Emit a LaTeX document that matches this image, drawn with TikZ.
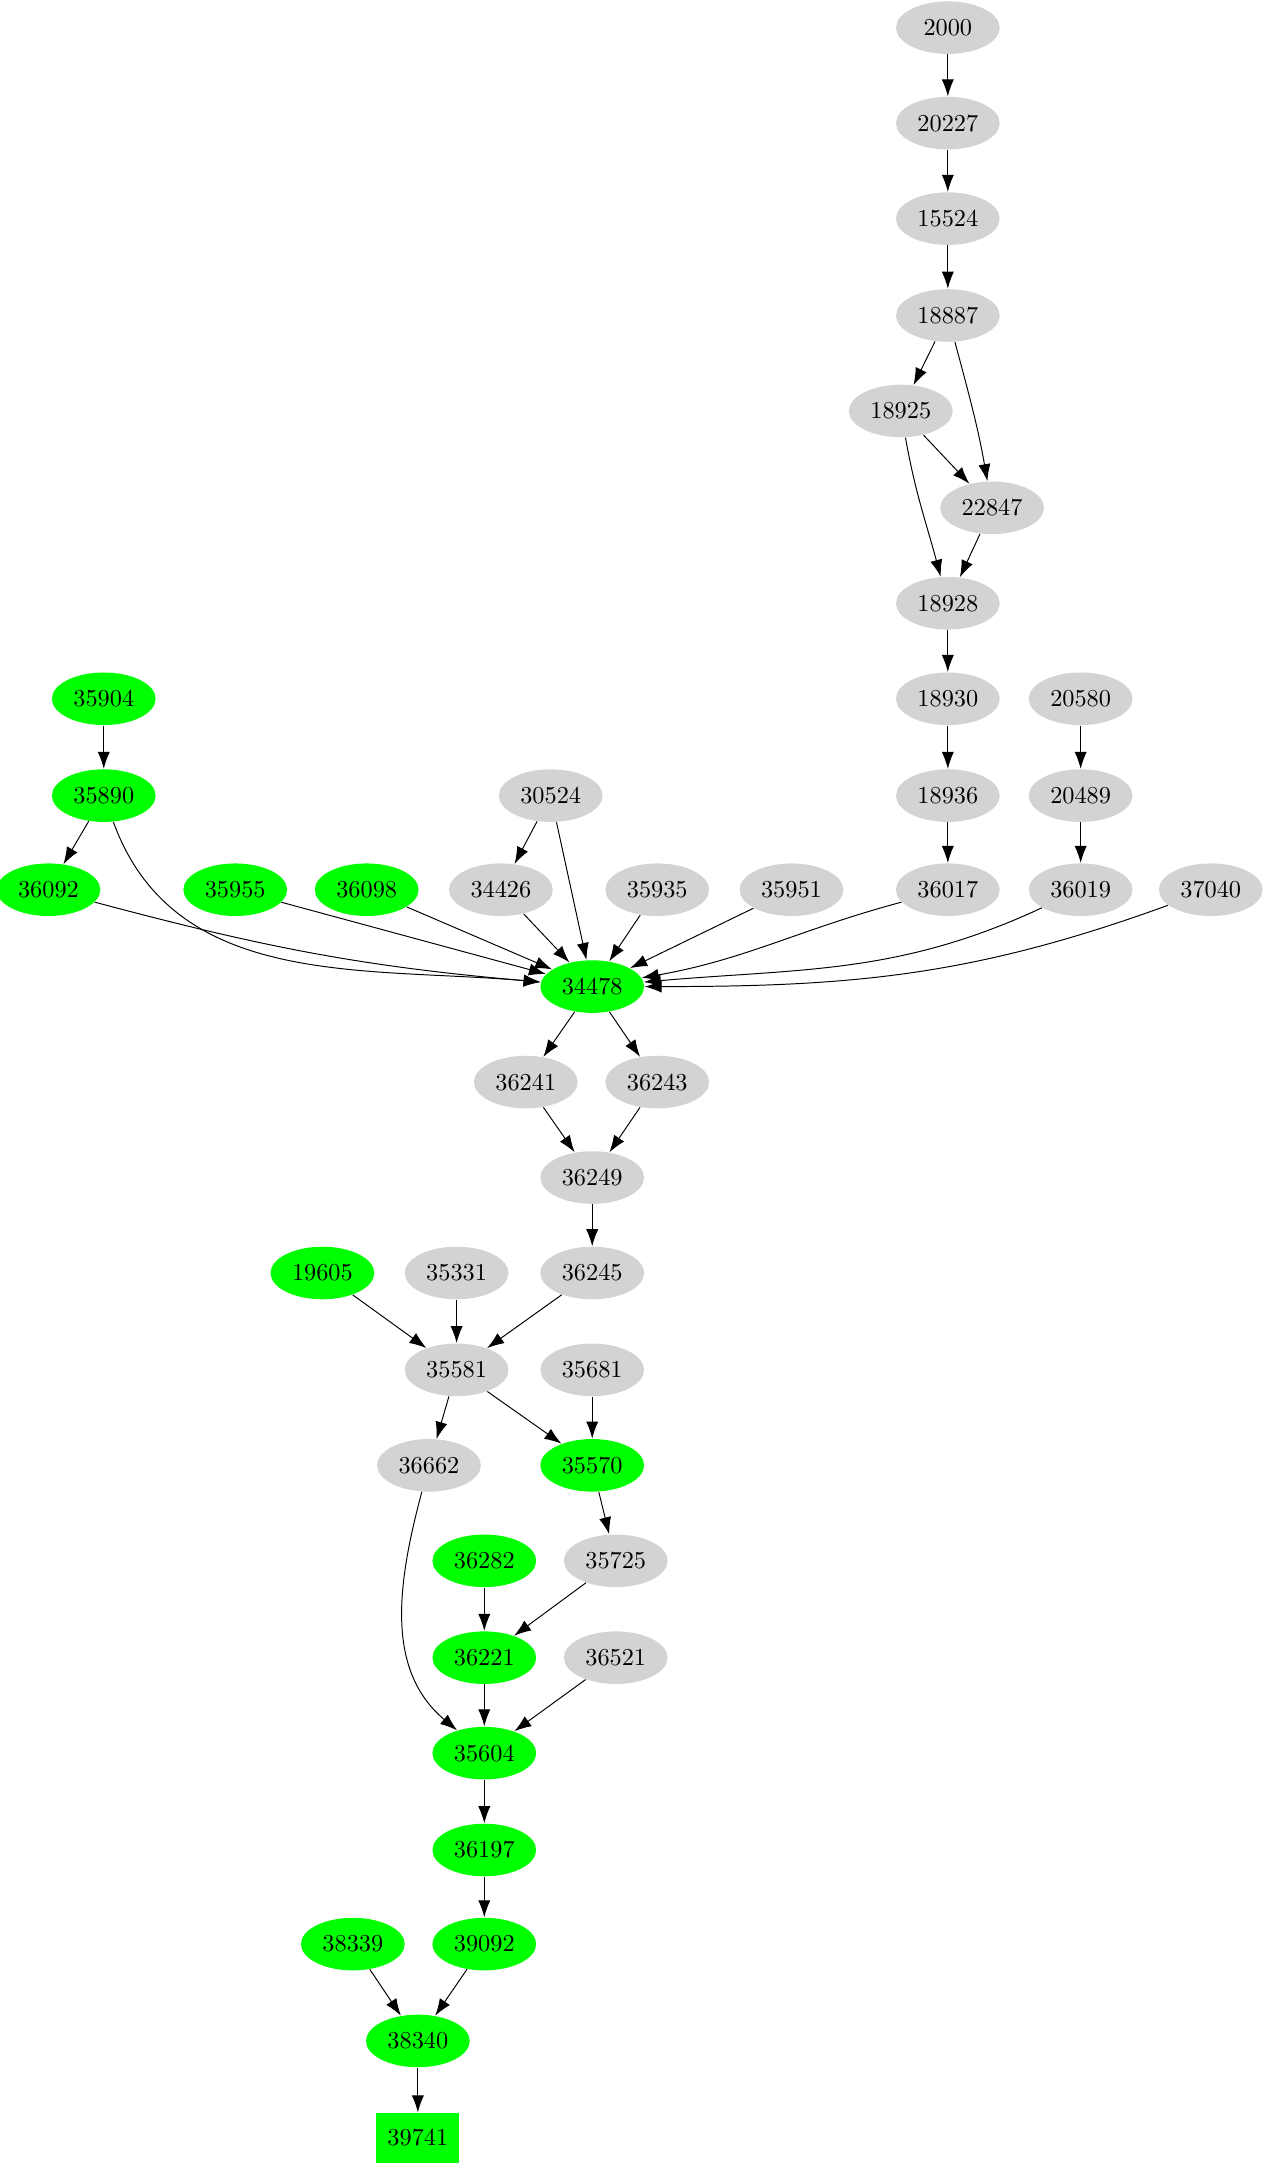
\documentclass[tikz,border=0pt]{standalone}
\usetikzlibrary{shapes.geometric,arrows.meta}
\definecolor{gr}{RGB}{211,211,211}
\definecolor{gn}{RGB}{0,255,0}
\begin{document}
\begin{tikzpicture}[x=0.02cm,y=-0.02cm,
 g/.style={ellipse,fill=gr,minimum width=1.5cm,minimum height=0.76cm,inner sep=0pt},
 G/.style={ellipse,fill=gn,minimum width=1.5cm,minimum height=0.76cm,inner sep=0pt},
 e/.style={-{Latex[length=7pt,width=5pt]}}]
\useasboundingbox (0,0) rectangle (920,1569);
\foreach \n/\x/\y/\s in {2000/685/20/g,20227/685/89/g,15524/685/158/g,18887/685/228/g,18925/651/297/g,22847/717/367/g,18928/685/436/g,18930/685/505/g,20580/781/505/g,18936/685/575/g,20489/781/575/g,36017/685/643/g,36019/781/643/g,37040/875/643/g,35904/75/505/G,35890/75/575/G,36092/35/643/G,35955/170/643/G,36098/265/643/G,30524/398/575/g,34426/362/643/g,35935/475/643/g,35951/572/643/g,34478/428/713/G,36241/380/782/g,36243/475/782/g,36249/428/851/g,36245/428/920/g,19605/233/920/G,35331/330/920/g,35581/330/990/g,35681/428/990/g,36662/310/1059/g,35570/428/1059/G,36282/350/1128/G,35725/445/1128/g,36221/350/1198/G,36521/445/1198/g,35604/350/1267/G,36197/350/1337/G,38339/255/1405/G,39092/350/1405/G,38340/302/1475/G}
 \node[\s] (n\n) at (\x,\y) {\n};
\node[fill=gn,minimum width=1.2cm,minimum height=0.72cm] (n39741) at (302,1545) {39741};
\foreach \a/\b in {2000/20227,20227/15524,15524/18887,18887/18925,18925/22847,22847/18928,18928/18930,18930/18936,18936/36017,20580/20489,20489/36019,35904/35890,35890/36092,30524/34426,34426/34478,30524/34478,35935/34478,35951/34478,36098/34478,35955/34478,34478/36241,34478/36243,36241/36249,36243/36249,36249/36245,36245/35581,35331/35581,19605/35581,35581/36662,35581/35570,35681/35570,35570/35725,35725/36221,36282/36221,36221/35604,36521/35604,35604/36197,36197/39092,39092/38340,38339/38340,38340/39741}
 \draw[e] (n\a) -- (n\b);
\draw[e] (n18887) to[out=-75,in=100] (n22847);
\draw[e] (n18925) to[out=-80,in=105] (n18928);
\draw[e] (n35890) to[out=-70,in=175] (n34478);
\draw[e] (n36092) to[out=-15,in=175] (n34478);
\draw[e] (n36017) to[out=-165,in=10] (n34478);
\draw[e] (n36019) to[out=-155,in=5] (n34478);
\draw[e] (n37040) to[out=-160,in=0] (n34478);
\draw[e] (n36662) to[out=-105,in=140] (n35604);
\end{tikzpicture}
\end{document}
